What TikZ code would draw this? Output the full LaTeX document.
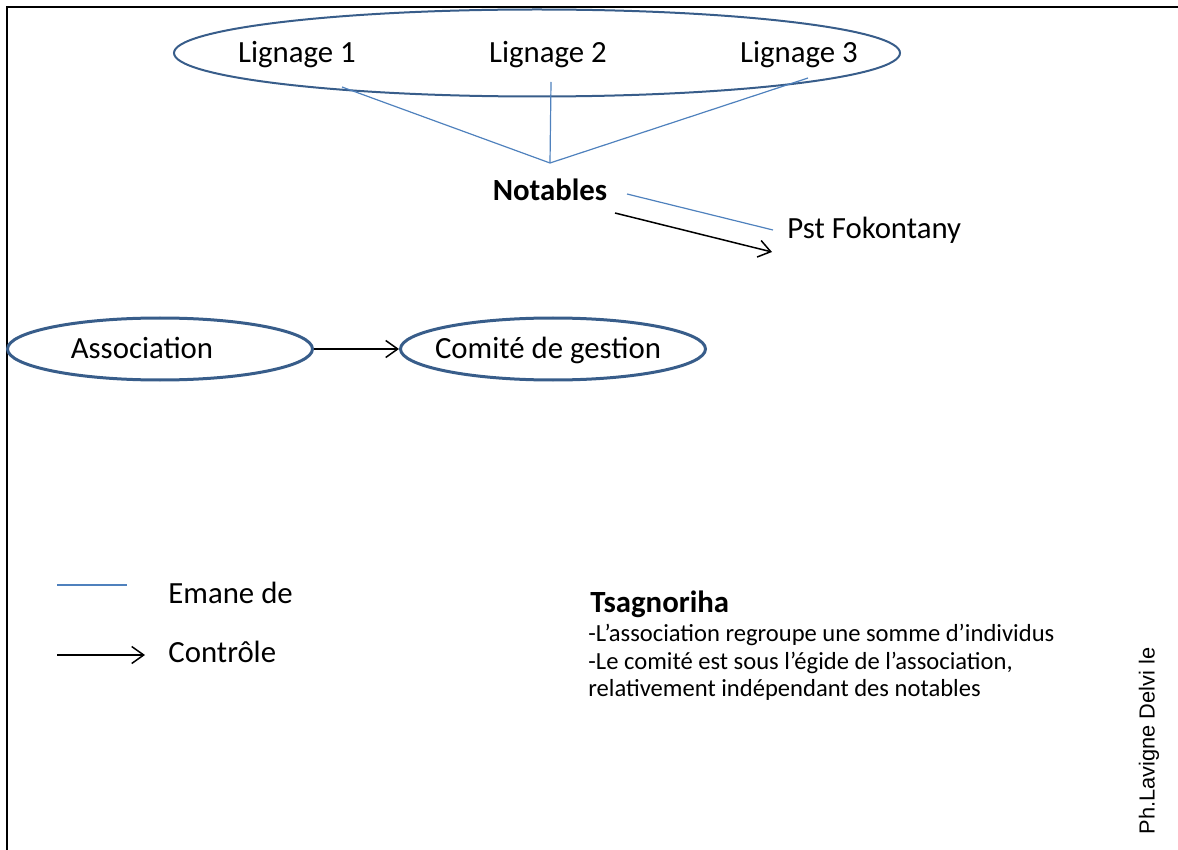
\documentclass[tikz,border=0pt]{standalone}
\usepackage{fontspec}
\setmainfont{Carlito}
\newfontfamily\creditfont{Liberation Sans}
\usetikzlibrary{arrows.meta,shapes.geometric}
\definecolor{ovalblue}{RGB}{56,93,138}
\definecolor{linkblue}{RGB}{79,129,189}

\begin{document}
\begin{tikzpicture}[x=0.5pt,y=-0.5pt,
    lbl/.style={inner sep=0pt,anchor=base,font=\fontsize{15.4}{18}\selectfont},
    oval/.style={ellipse,draw=ovalblue,inner sep=0pt},
    emane/.style={draw=linkblue,line width=0.6pt},
    ctrl/.style={draw=black,line width=0.75pt,-{Straight Barb[length=6pt,width=8.5pt]}}]
  \useasboundingbox (0,0) rectangle (1178,850);
  % frame
  \draw[line width=1.2pt] (7,850) -- (7,7) -- (1178,7);

  % lineages
  \node[oval,line width=1pt,minimum width=363pt,minimum height=43.5pt]
    (lineages) at (537,53) {};
  \node[lbl] (lig1) at (297,63) {Lignage 1};
  \node[lbl] (lig2) at (548,63) {Lignage 2};
  \node[lbl] (lig3) at (799,63) {Lignage 3};
  \node[lbl,font=\fontsize{15.4}{18}\selectfont\bfseries] (notables) at (550,201) {Notables};
  \node[lbl,anchor=base west] (pst) at (787,239) {Pst Fokontany};

  \coordinate (from1) at (342,87);
  \coordinate (from2) at (551,82);
  \coordinate (from3) at (808,78);
  \coordinate (meet) at (550,163);
  \draw[emane] (from1) -- (meet) -- (from3);
  \draw[emane] (from2) -- (meet);

  \coordinate (nbl) at (627,194);
  \coordinate (pbl) at (773,230);
  \coordinate (nbk) at (615,213);
  \coordinate (pbk) at (772,252);
  \draw[emane] (nbl) -- (pbl);
  \draw[ctrl] (nbk) -- (pbk);

  % association / committee
  \node[oval,line width=1.5pt,minimum width=152.5pt,minimum height=31pt,
        text height=11.5pt,text depth=2.5pt,
        font=\fontsize{15.4}{18}\selectfont]
    (assoc) at (160,349) {Association\hspace*{18pt}};
  \node[oval,line width=1.5pt,minimum width=152.5pt,minimum height=31pt,
        inner xsep=-8.25pt,text height=11.5pt,text depth=2.5pt,
        font=\fontsize{15.4}{18}\selectfont]
    (comite) at (553,349) {Comité de gestion\hspace*{5pt}};
  \draw[ctrl] (assoc.east) -- (comite.west);

  % legend
  \coordinate (leg1a) at (57,585);
  \coordinate (leg1b) at (127,585);
  \coordinate (leg2a) at (57,655);
  \coordinate (leg2b) at (145,655);
  \draw[emane] (leg1a) -- (leg1b);
  \draw[ctrl] (leg2a) -- (leg2b);
  \node[lbl,anchor=base west] (emanetxt) at (168,603) {Emane de};
  \node[lbl,anchor=base west] (ctrltxt) at (168,662) {Contrôle};

  % note
  \node[lbl,anchor=base west,font=\fontsize{15.4}{18}\selectfont\bfseries]
    (notetitle) at (590,612) {Tsagnoriha};
  \node[inner sep=0pt,anchor=north west,align=left,
        font=\fontsize{12.3}{13.8}\selectfont]
    (notetxt) at (588,624)
    {-L’association regroupe une somme d’individus\\
     -Le comité est sous l’égide de l’association,\\
     relativement indépendant des notables};

  \node[inner sep=0pt,rotate=90,font=\creditfont\fontsize{10.9}{13}\selectfont]
    (credit) at (1149,741) {Ph.Lavigne Delvi le};
\end{tikzpicture}
\end{document}
